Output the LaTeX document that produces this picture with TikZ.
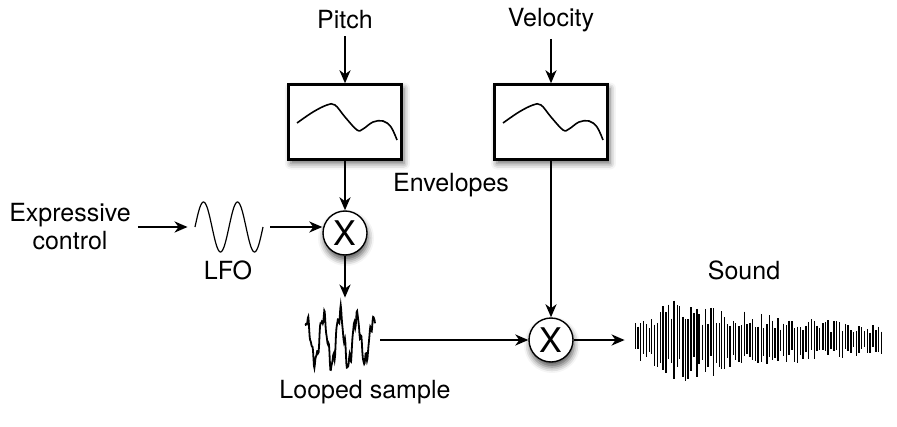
\documentclass[tikz,border=0pt]{standalone}
\usepackage{fontspec}
\setmainfont{TeX Gyre Heros}
\usetikzlibrary{arrows.meta,shadows.blur}

\begin{document}
\begin{tikzpicture}[x=0.5pt,y=-0.5pt,
    every node/.style={font=\fontsize{12.5}{14}\selectfont},
    envbox/.style={draw,line width=1.2pt,fill=white,minimum width=56.5pt,minimum height=37.5pt,
      blur shadow={shadow xshift=1.2pt,shadow yshift=-2pt,shadow blur radius=3pt,shadow opacity=60}},
    mult/.style={draw,circle,line width=0.7pt,fill=white,minimum size=22pt,inner sep=0pt,
      font=\fontsize{17}{17}\selectfont,
      blur shadow={shadow xshift=0.5pt,shadow yshift=-2.5pt,shadow blur radius=3pt,shadow opacity=65}},
    wave/.style={inner sep=0pt},
    flow/.style={-{Stealth[length=6.5pt,width=5.5pt,inset=2pt]},line width=1.2pt}]
  \useasboundingbox (0,0) rectangle (897,427);
  % labels and blocks
  \node (pitch) at (345,20) {Pitch};
  \node (velocity) at (551,20) {Velocity};
  \node[envbox] (env1) at (345,122) {};
  \node[envbox] (env2) at (551,122) {};
  \node (envlabel) at (451,185) {Envelopes};
  \node[mult] (mul1) at (345,233) {X};
  \node[mult] (mul2) at (551,340) {X};
  \node[align=center] (expr) at (70,227) {Expressive\\control};
  \node[wave,minimum width=41pt,minimum height=25pt] (lfo) at (229,227) {};
  \node (lfolabel) at (228,270) {LFO};
  \node[wave,minimum width=40pt,minimum height=42pt] (looped) at (340,340) {};
  \node (loopedlabel) at (365,392) {Looped sample};
  \node[wave,minimum width=134pt,minimum height=45pt] (sound) at (759,340) {};
  \node (soundlabel) at (744,270) {Sound};
  % envelope curves
  \foreach \e in {env1,env2}
    \draw[line width=0.8pt,shift={(\e.center)}] plot[smooth,tension=0.6]
      coordinates {(-48,1) (-32,-10) (-18,-17) (-10,-17) (0,-5) (12,8) (18,7) (28,0) (38,-1) (46,5) (52,18)};
  % waveforms
  \draw[line width=0.6pt,shift={(lfo.center)}] plot[domain=-34:34,samples=80]
    (\x,{-25*sin((\x+34)*10.588)});
  \draw[line width=0.9pt,shift={(looped.center)}] plot[domain=-35:35,samples=150]
    (\x,{-(27*sin(\x*21.56+90)+7*sin(\x*87.8)+3*sin(\x*156.5))*(1-abs(\x)/120)});
  \pgfmathsetseed{7}
  \begin{scope}[shift={(sound.center)}]
    \foreach \i in {0,...,88}{
      \pgfmathsetmacro\sx{-124+2.8*\i}
      \pgfmathsetmacro\amp{\sx<-80 ? 18+25*(\sx+124)/44 : 43*exp(-(\sx+80)/190)}
      \pgfmathsetmacro\ytop{-\amp*(0.4+0.6*rnd)}
      \pgfmathsetmacro\ybot{\amp*(0.4+0.6*rnd)}
      \pgfmathsetmacro\lw{0.4+0.6*rnd}
      \draw[line width=\lw pt] (\sx,\ytop) -- (\sx,\ybot);
    }
  \end{scope}
  % connections
  \draw[flow] (pitch) -- (env1);
  \draw[flow] (velocity) -- (env2);
  \draw[flow] (env1) -- (mul1);
  \draw[flow] (env2) -- (mul2);
  \draw[flow] (expr) -- (lfo);
  \draw[flow] (lfo.east) -- (mul1.west |- lfo.east);
  \draw[flow] (mul1.south) -- (mul1.south |- looped.north);
  \draw[flow] (looped) -- (mul2);
  \draw[flow] (mul2) -- (sound);
\end{tikzpicture}
\end{document}
